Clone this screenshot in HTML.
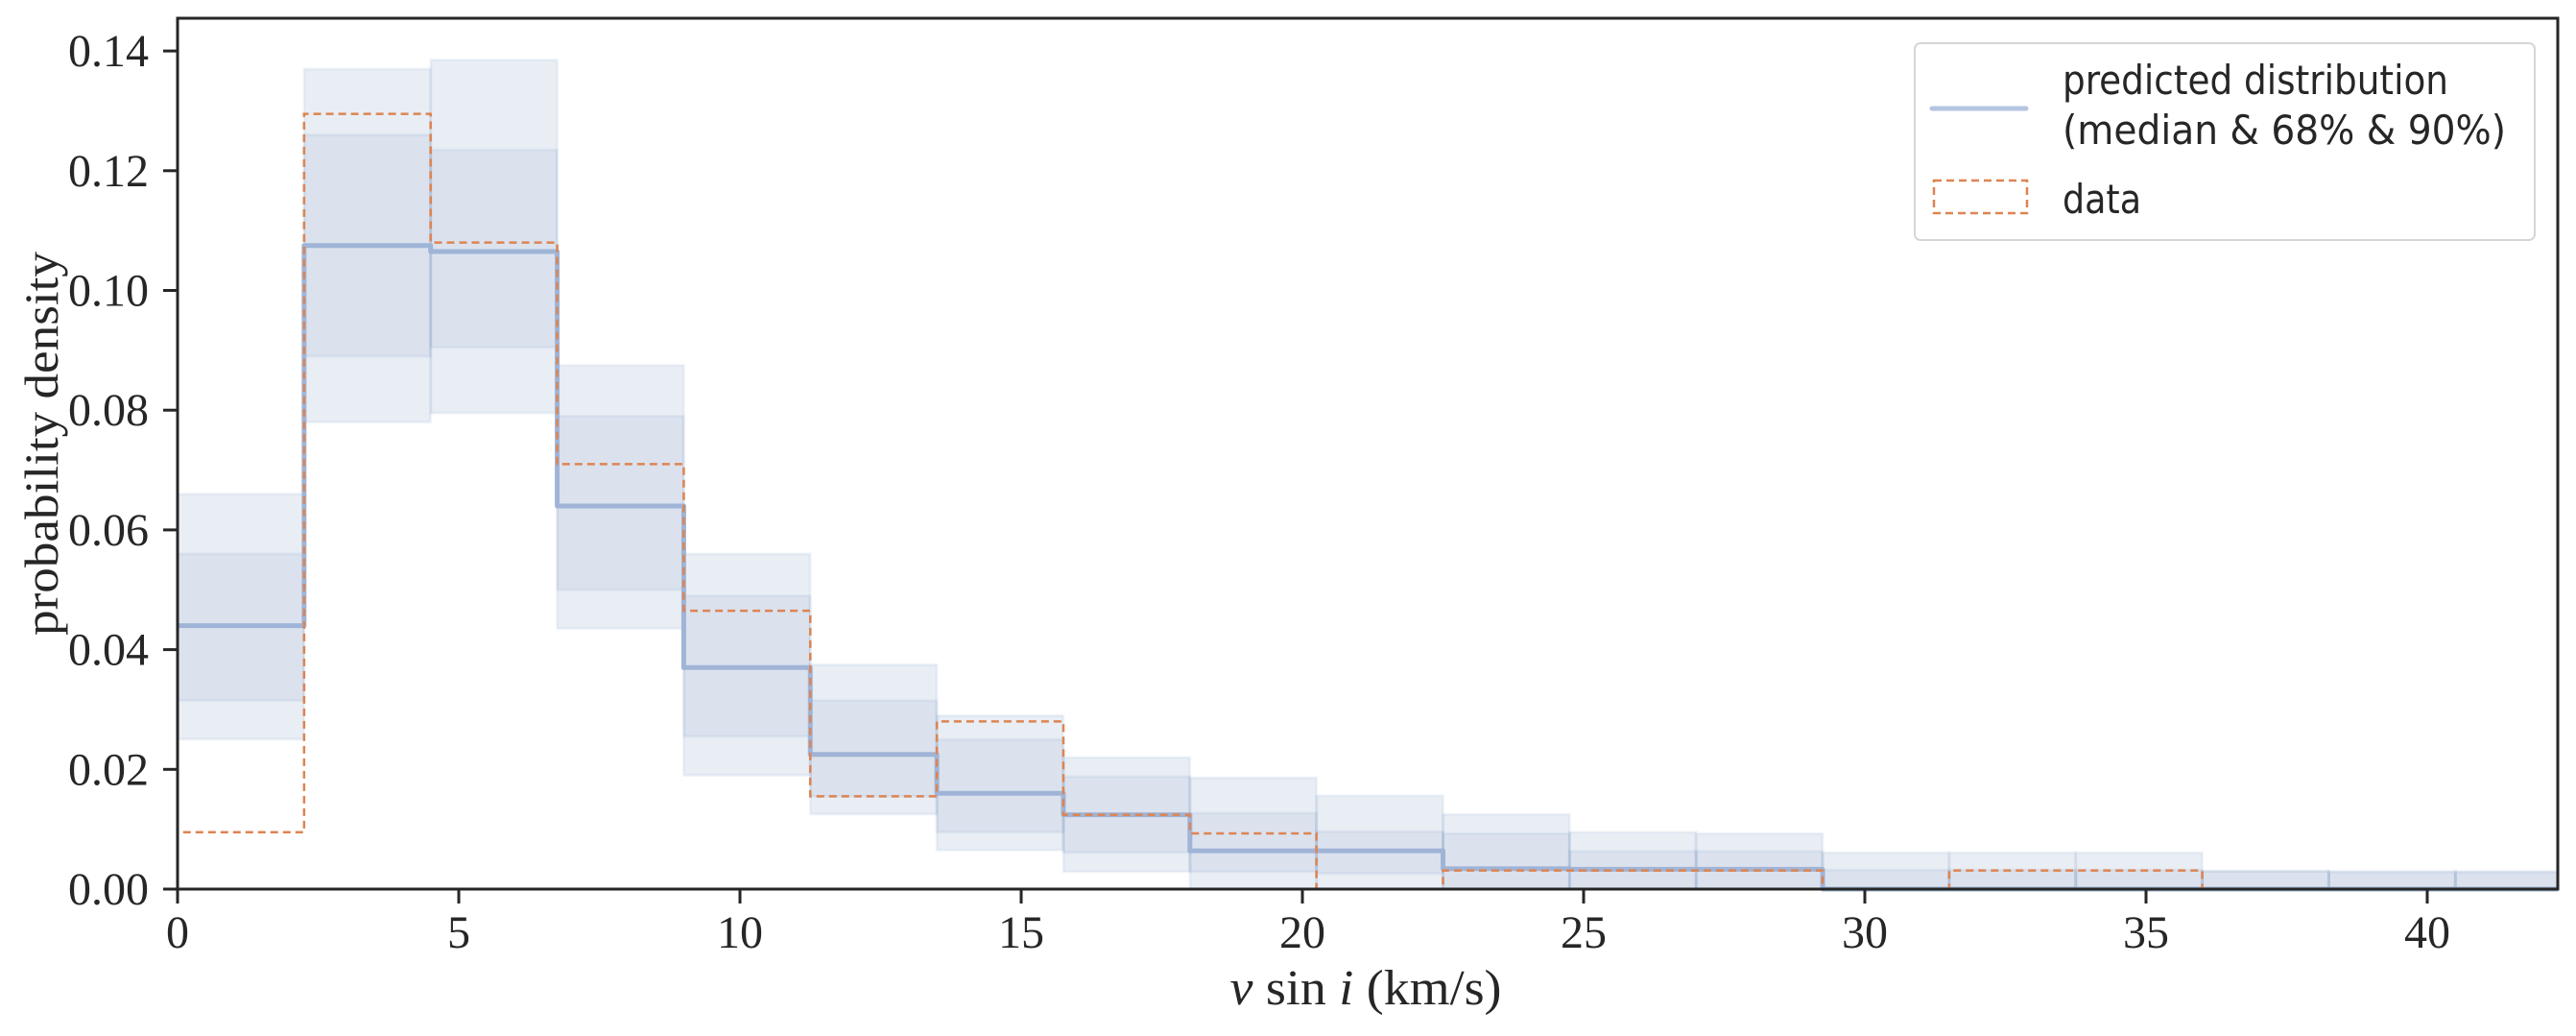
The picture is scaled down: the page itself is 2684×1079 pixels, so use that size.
<!DOCTYPE html>
<html><head><meta charset="utf-8"><style>
html,body{margin:0;padding:0;background:#fff;}
svg{display:block;}
</style></head><body>
<svg id="chart" width="2684" height="1079" viewBox="0 0 2684 1079" xmlns="http://www.w3.org/2000/svg">
<rect x="0" y="0" width="2684" height="1079" fill="#fff"/>
<g id="bands90"></g>
<g id="bands68"></g>
<g id="lines"></g>
<g id="axes"></g>
<g id="legend">
  <rect x="1995" y="45" width="646" height="205" rx="6" fill="#fff" fill-opacity="0.8" stroke="#d6d6d6" stroke-width="2"/>
  <line x1="2013" y1="113" x2="2111" y2="113" stroke="#b4c5e0" stroke-width="5" stroke-linecap="round"/>
  <text x="2149" y="98" font-family="'DejaVu Sans Condensed','Liberation Sans',sans-serif" font-size="42" fill="#262626" textLength="402" lengthAdjust="spacingAndGlyphs">predicted distribution</text>
  <text x="2149" y="150" font-family="'DejaVu Sans Condensed','Liberation Sans',sans-serif" font-size="42" fill="#262626" textLength="462" lengthAdjust="spacingAndGlyphs">(median &amp; 68% &amp; 90%)</text>
  <rect x="2015" y="188" width="97" height="34" fill="none" stroke="#dd8452" stroke-width="2.5" stroke-dasharray="8,5"/>
  <text x="2149" y="222" font-family="'DejaVu Sans Condensed','Liberation Sans',sans-serif" font-size="42" fill="#262626" textLength="82" lengthAdjust="spacingAndGlyphs">data</text>
</g>
<text x="1423" y="1046" text-anchor="middle" font-family="'Liberation Serif',serif" font-size="52" fill="#262626" textLength="283" lengthAdjust="spacingAndGlyphs"><tspan font-style="italic">v</tspan> sin <tspan font-style="italic">i</tspan> (km/s)</text>
<text transform="translate(60,462) rotate(-90)" text-anchor="middle" font-family="'Liberation Serif',serif" font-size="50" fill="#262626" textLength="400" lengthAdjust="spacingAndGlyphs">probability density</text>
</svg>
<script>
const binWidth = 2.25;
const median = [0.044,0.1075,0.1065,0.064,0.037,0.0225,0.016,0.0124,0.0064,0.0064,0.0034,0.0033,0.0033,0,0,0,0,0,0];
const lo68 = [0.0315,0.089,0.0905,0.050,0.0255,0.0155,0.0095,0.0061,0.0029,0.0026,0,0,0,0,0,0,0,0,0];
const hi68 = [0.056,0.126,0.1235,0.079,0.049,0.0315,0.025,0.0188,0.0127,0.0096,0.0093,0.0063,0.0063,0.0032,0.0032,0.0032,0.0030,0.0030,0.0030];
const lo90 = [0.025,0.078,0.0795,0.0435,0.019,0.0125,0.0065,0.0029,0,0,0,0,0,0,0,0,0,0,0];
const hi90 = [0.066,0.137,0.1385,0.0875,0.056,0.0375,0.029,0.022,0.0186,0.0156,0.0125,0.0095,0.0093,0.0061,0.0061,0.0061,0.0030,0.0028,0.0028];
const dataVals = [0.0095,0.1295,0.108,0.071,0.0465,0.0155,0.028,0.0124,0.0093,0,0.0031,0.0031,0.0031,0,0.0031,0.0031,0,0,0];
const xTicks = [0,5,10,15,20,25,30,35,40];
const yTicks = [0,0.02,0.04,0.06,0.08,0.10,0.12,0.14];
const yTickLabels = ["0.00","0.02","0.04","0.06","0.08","0.10","0.12","0.14"];

const X0=185, X1=2665, Y0=926, Ytop=19, xMax=(X1-X0)/58.6, yMax=(Y0-Ytop)/6235;
const sx = v => X0 + v*(X1-X0)/xMax;
const sy = v => Y0 - v*(Y0-Ytop)/yMax;
const NS="http://www.w3.org/2000/svg";
function mk(tag, attrs, parent){const e=document.createElementNS(NS,tag);for(const k in attrs)e.setAttribute(k,attrs[k]);parent.appendChild(e);return e;}
const clipX = v => Math.min(v, xMax);

const g90=document.getElementById('bands90'), g68=document.getElementById('bands68'), gl=document.getElementById('lines'), ga=document.getElementById('axes');
for(let i=0;i<median.length;i++){
  const a=sx(i*binWidth), b=sx(clipX((i+1)*binWidth));
  if(a>=X1) break;
  const r1=mk('rect',{x:a,y:sy(hi90[i]),width:b-a,height:sy(lo90[i])-sy(hi90[i]),fill:'#4c72b0','fill-opacity':0.12,stroke:'#4c72b0','stroke-opacity':0.07,'stroke-width':3},g90);
  
  
  const r2=mk('rect',{x:a,y:sy(hi68[i]),width:b-a,height:sy(lo68[i])-sy(hi68[i]),fill:'#4c72b0','fill-opacity':0.09,stroke:'#4c72b0','stroke-opacity':0.07,'stroke-width':3},g68);
  
  
}
function stepPath(vals, fromZero){
  let d=fromZero ? 'M'+sx(0)+','+sy(0) : 'M'+sx(0)+','+sy(vals[0]);
  for(let i=0;i<vals.length;i++){
    const a=sx(i*binWidth), b=sx(clipX((i+1)*binWidth));
    if(a>=X1) break;
    d+=' L'+a+','+sy(vals[i])+' L'+b+','+sy(vals[i]);
  }
  return d;
}
const pm=mk('path',{d:stepPath(median,false),fill:'none',stroke:'#9fb4d6','stroke-width':5,'stroke-linejoin':'round'},gl);


const pd=mk('path',{d:stepPath(dataVals,true),fill:'none',stroke:'#dd8452','stroke-width':2.5,'stroke-dasharray':'8,5'},gl);



const frame=mk('rect',{x:X0,y:Ytop,width:X1-X0,height:Y0-Ytop,fill:'none',stroke:'#262626','stroke-width':3},ga);


xTicks.forEach(t=>{
  const x=sx(t);
  const l=mk('line',{x1:x,y1:Y0,x2:x,y2:Y0+15,stroke:'#262626','stroke-width':3},ga);
  
  
  const tx=mk('text',{x:x,y:987,'text-anchor':'middle','font-family':"'Liberation Serif',serif",'font-size':48,fill:'#262626'},ga);
  tx.textContent=String(t);
  
  
});
yTicks.forEach((t,i)=>{
  const y=sy(t);
  const l=mk('line',{x1:X0-15,y1:y,x2:X0,y2:y,stroke:'#262626','stroke-width':3},ga);
  
  
  const tx=mk('text',{x:155,y:y+16,'text-anchor':'end','font-family':"'Liberation Serif',serif",'font-size':48,fill:'#262626'},ga);
  tx.textContent=yTickLabels[i];
  
  
});
</script>
</body></html>
